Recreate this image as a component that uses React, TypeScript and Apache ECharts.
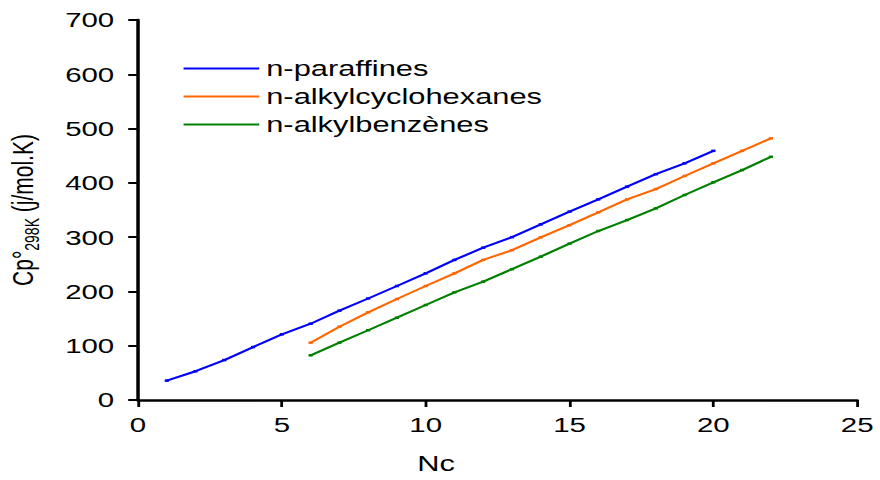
import React, { useEffect, useRef } from "react";
import * as echarts from "echarts";

// Carbon number (Nc) for each homologous series
const ncParaffins = [1, 2, 3, 4, 5, 6, 7, 8, 9, 10, 11, 12, 13, 14, 15, 16, 17, 18, 19, 20];
const ncCyclic = [6, 7, 8, 9, 10, 11, 12, 13, 14, 15, 16, 17, 18, 19, 20, 21, 22];

// Cp° at 298 K (J/mol.K)
const cpParaffins = [35.7, 53, 73.6, 97.5, 121, 140.5, 164.5, 187, 210, 233.3, 258, 280.5, 300, 323.5, 347, 369.6, 393, 416, 436, 459];
const cpCyclohexanes = [105.6, 135, 161.5, 186, 210, 233.3, 258, 276, 299.7, 322, 345.7, 369.6, 388.6, 412.6, 436, 459, 482];
const cpBenzenes = [82.3, 105.6, 128.5, 151.6, 175, 198.3, 218, 241, 264, 288, 311.3, 331.5, 353, 377.6, 401, 423.6, 448];

const seriesNames = ["n-paraffines", "n-alkylcyclohexanes", "n-alkylbenzènes"];
const seriesColors = ["#0000FF", "#FF6600", "#008000"];

const xTicks = { min: 0, max: 25, interval: 5 };
const yTicks = { min: 0, max: 700, interval: 100 };

const STRETCH = 1.4013;
const W = 628;
const H = 480;

const pairs = (xs: number[], ys: number[]) => xs.map((x, i) => [x, ys[i]]);

export default function App() {
  const ref = useRef<HTMLDivElement>(null);

  useEffect(() => {
    if (!ref.current) return;
    const chart = echarts.init(ref.current, null, { renderer: "svg" });
    const font = "'Liberation Sans', Arial, sans-serif";
    const data = [
      pairs(ncParaffins, cpParaffins),
      pairs(ncCyclic, cpCyclohexanes),
      pairs(ncCyclic, cpBenzenes),
    ];
    chart.setOption({
      animation: false,
      textStyle: { fontFamily: font, color: "#000" },
      grid: { left: 98.5, right: 16.3, top: 20, bottom: 80, containLabel: false, outerBoundsMode: "none" },
      legend: {
        orient: "vertical",
        left: 126,
        top: 52,
        icon: "rect",
        itemWidth: 54,
        itemHeight: 2,
        itemGap: 5,
        textStyle: { fontSize: 22, lineHeight: 23, color: "#000", fontFamily: font },
        data: seriesNames,
      },
      xAxis: {
        type: "value",
        min: xTicks.min,
        max: xTicks.max,
        interval: xTicks.interval,
        name: "Nc",
        nameLocation: "middle",
        nameGap: 53,
        nameTextStyle: { fontSize: 22, color: "#000", fontFamily: font, padding: [0, 88, 0, 0] },
        splitLine: { show: false },
        axisLine: { lineStyle: { color: "#000", width: 2.5 } },
        axisTick: { inside: false, length: 7, lineStyle: { color: "#000", width: 2 } },
        axisLabel: { fontSize: 21, color: "#000", margin: 14 },
      },
      yAxis: {
        type: "value",
        min: yTicks.min,
        max: yTicks.max,
        interval: yTicks.interval,
        name: "{a|Cp°}{s|298K}{a| (j/mol.K)}",
        nameLocation: "middle",
        nameRotate: 90,
        nameGap: 68,
        nameTextStyle: {
          color: "#000",
          fontFamily: font,
          rich: {
            a: { fontSize: 21, fontFamily: font, color: "#000", lineHeight: 28, verticalAlign: "middle" },
            s: { fontSize: 14, fontFamily: font, color: "#000", lineHeight: 28, verticalAlign: "bottom", padding: [8, 0, 0, 0] },
          },
        },
        splitLine: { show: false },
        axisLine: { show: true, lineStyle: { color: "#000", width: 2.5 } },
        axisTick: { show: true, inside: false, length: 7, lineStyle: { color: "#000", width: 2 } },
        axisLabel: { fontSize: 21, color: "#000", margin: 17 },
      },
      series: data.map((d, i) => ({
        type: "line",
        name: seriesNames[i],
        data: d,
        color: seriesColors[i],
        lineStyle: { width: 2, color: seriesColors[i] },
        symbol: "rect",
        symbolSize: [3, 2.5],
        itemStyle: { color: seriesColors[i] },
      })),
    });
    return () => chart.dispose();
  }, []);

  return (
    <div
      style={{
        position: "absolute",
        left: 0,
        top: 0,
        width: W,
        height: H,
        transform: `scaleX(${STRETCH})`,
        transformOrigin: "0 0",
        background: "#fff",
      }}
    >
      <div ref={ref} style={{ width: W, height: H }} />
    </div>
  );
}
